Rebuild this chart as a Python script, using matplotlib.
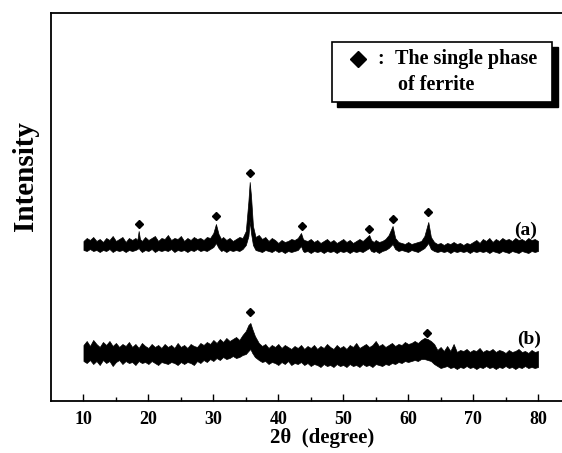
import numpy as np
import matplotlib.pyplot as plt
from matplotlib.patches import Rectangle

plt.rcParams['font.family'] = ['Liberation Serif', 'DejaVu Serif']
plt.rcParams['font.weight'] = 'bold'

# trace (a): upper / lower edge of the noisy band
xa = [10.0, 10.5, 11.0, 11.5, 12.0, 12.5, 13.0, 13.5, 14.0, 14.5, 15.0, 15.5, 16.0, 16.5, 17.0, 17.5,
      18.0, 18.3, 18.5, 18.7, 19.0, 19.5, 20.0, 20.5, 21.0, 21.5, 22.0, 22.5, 23.0, 23.5, 24.0, 24.5,
      25.0, 25.5, 26.0, 26.5, 27.0, 27.5, 28.0, 28.5, 29.0, 29.5, 30.0, 30.4, 30.8, 31.2, 31.5, 32.0,
      32.5, 33.0, 33.5, 34.0, 34.5, 35.0, 35.4, 35.6, 35.8, 36.1, 36.5, 37.0, 37.5, 38.0, 38.5, 39.0,
      39.5, 40.0, 40.5, 41.0, 41.5, 42.0, 42.5, 43.0, 43.5, 43.8, 44.0, 44.5, 45.0, 45.5, 46.0, 46.5,
      47.0, 47.5, 48.0, 48.5, 49.0, 49.5, 50.0, 50.5, 51.0, 51.5, 52.0, 52.5, 53.0, 53.5, 54.0, 54.3,
      54.7, 55.0, 55.5, 56.0, 56.5, 57.0, 57.6, 58.0, 58.5, 59.0, 59.5, 60.0, 60.5, 61.0, 61.5, 62.0,
      62.5, 63.1, 63.5, 64.0, 64.5, 65.0, 65.5, 66.0, 66.5, 67.0, 67.5, 68.0, 68.5, 69.0, 69.5, 70.0,
      70.5, 71.0, 71.5, 72.0, 72.5, 73.0, 73.5, 74.0, 74.5, 75.0, 75.5, 76.0, 76.5, 77.0, 77.5, 78.0,
      78.5, 79.0, 79.5, 80.0]
ua = [160, 163, 161, 164, 160, 162, 159, 163, 161, 165, 160, 162, 164, 159, 163, 161,
      163, 161, 170, 162, 160, 164, 161, 163, 165, 160, 163, 162, 166, 161, 163, 162,
      165, 160, 163, 161, 164, 162, 163, 161, 164, 163, 168, 177, 167, 162, 164, 161,
      163, 160, 162, 164, 163, 170, 200, 219, 205, 175, 164, 166, 162, 164, 160, 163,
      161, 158, 161, 159, 160, 162, 161, 163, 168, 162, 161, 160, 162, 159, 161, 158,
      160, 162, 159, 161, 158, 160, 162, 159, 161, 158, 160, 162, 160, 163, 166, 161,
      159, 161, 159, 160, 162, 166, 175, 163, 159, 158, 157, 159, 157, 158, 159, 160,
      165, 179, 164, 159, 157, 158, 156, 158, 157, 159, 157, 158, 156, 158, 157, 159,
      161, 158, 162, 160, 163, 159, 162, 160, 163, 161, 162, 160, 163, 161, 162, 160,
      163, 161, 162, 160]
la = [151, 150, 152, 150, 151, 149, 151, 150, 152, 149, 151, 150, 151, 149, 151, 150,
      151, 152, 153, 151, 149, 151, 150, 152, 149, 151, 150, 151, 150, 152, 149, 151,
      150, 151, 149, 151, 150, 152, 150, 151, 150, 152, 154, 158, 153, 150, 151, 149,
      151, 150, 151, 150, 152, 156, 165, 180, 168, 156, 151, 150, 149, 151, 150, 149,
      151, 149, 150, 148, 150, 149, 150, 151, 155, 150, 149, 150, 148, 150, 149, 150,
      148, 150, 149, 150, 148, 150, 149, 150, 148, 150, 149, 150, 149, 151, 153, 150,
      149, 150, 148, 150, 151, 153, 157, 152, 150, 151, 150, 149, 151, 150, 149, 151,
      153, 158, 152, 150, 149, 150, 149, 150, 148, 150, 149, 150, 149, 150, 148, 150,
      149, 150, 149, 150, 148, 150, 149, 148, 150, 149, 148, 150, 149, 148, 150, 149,
      148, 150, 149, 150]

# trace (b)
xb = [10.0, 10.5, 11.0, 11.5, 12.0, 12.5, 13.0, 13.5, 14.0, 14.5, 15.0, 15.5, 16.0, 16.5, 17.0, 17.5,
      18.0, 18.5, 19.0, 19.5, 20.0, 20.5, 21.0, 21.5, 22.0, 22.5, 23.0, 23.5, 24.0, 24.5, 25.0, 25.5,
      26.0, 26.5, 27.0, 27.5, 28.0, 28.5, 29.0, 29.5, 30.0, 30.5, 31.0, 31.5, 32.0, 32.5, 33.0, 33.5,
      34.0, 34.5, 35.0, 35.4, 35.7, 36.0, 36.4, 37.0, 37.5, 38.0, 38.5, 39.0, 39.5, 40.0, 40.5, 41.0,
      41.5, 42.0, 42.5, 43.0, 43.5, 44.0, 44.5, 45.0, 45.5, 46.0, 46.5, 47.0, 47.5, 48.0, 48.5, 49.0,
      49.5, 50.0, 50.5, 51.0, 51.5, 52.0, 52.5, 53.0, 53.5, 54.0, 54.5, 55.0, 55.5, 56.0, 56.5, 57.0,
      57.5, 58.0, 58.5, 59.0, 59.5, 60.0, 60.5, 61.0, 61.5, 62.0, 62.5, 63.0, 63.5, 64.0, 64.5, 65.0,
      65.5, 66.0, 66.5, 67.0, 67.5, 68.0, 68.5, 69.0, 69.5, 70.0, 70.5, 71.0, 71.5, 72.0, 72.5, 73.0,
      73.5, 74.0, 74.5, 75.0, 75.5, 76.0, 76.5, 77.0, 77.5, 78.0, 78.5, 79.0, 79.5, 80.0]
ub = [56, 60, 55, 61, 57, 54, 59, 56, 60, 55, 58, 54, 57, 55, 59, 54,
      57, 53, 58, 55, 53, 57, 54, 56, 53, 57, 54, 56, 53, 58, 54, 56,
      53, 57, 55, 54, 58, 56, 59, 57, 61, 58, 62, 59, 63, 60, 62, 64,
      61, 66, 70, 76, 78, 72, 65, 58, 55, 57, 53, 56, 54, 57, 53, 56,
      54, 52, 55, 53, 56, 52, 55, 53, 56, 52, 55, 53, 57, 54, 52, 56,
      53, 55, 52, 56, 54, 58, 53, 55, 57, 54, 56, 60, 55, 57, 54, 56,
      58, 55, 57, 56, 59, 57, 58, 60, 58, 61, 63, 62, 60, 57, 51, 54,
      50, 55, 50, 57, 49, 51, 50, 52, 49, 51, 50, 53, 49, 51, 50, 52,
      49, 51, 50, 48, 51, 49, 50, 52, 49, 50, 48, 51, 49, 50]
lb = [40, 38, 41, 37, 40, 36, 41, 38, 40, 35, 39, 41, 37, 40, 38, 39,
      36, 40, 38, 39, 37, 40, 38, 36, 39, 38, 37, 39, 38, 36, 39, 37,
      39, 38, 36, 40, 38, 41, 39, 42, 40, 43, 41, 44, 42, 43, 45, 43,
      44, 46, 47, 50, 52, 48, 44, 41, 39, 40, 37, 39, 38, 36, 39, 37,
      40, 36, 38, 37, 39, 36, 38, 35, 37, 36, 34, 37, 35, 36, 34, 37,
      35, 36, 34, 37, 35, 36, 34, 37, 35, 36, 34, 37, 36, 35, 37, 36,
      38, 37, 39, 38, 40, 39, 40, 41, 40, 42, 42, 41, 40, 37, 35, 33,
      34, 35, 33, 34, 32, 34, 33, 35, 33, 34, 32, 34, 33, 35, 33, 34,
      32, 34, 33, 35, 33, 34, 32, 34, 33, 35, 33, 34, 33, 34]

# ferrite peak markers
peaks_a = [18.5, 30.4, 35.7, 43.6, 54.0, 57.6, 63.1]
marks_a = [177, 185, 228, 175, 172, 182, 189]
peaks_b = [35.7, 62.9]
marks_b = [89, 68]

xticks = [10, 20, 30, 40, 50, 60, 70, 80]

fig = plt.figure(figsize=(5.62, 4.53), dpi=100)
ax = fig.add_axes([51 / 562, 52 / 453, 519.5 / 562, 388 / 453])

ax.fill_between(xa, la, ua, color='k', lw=0.5)
ax.fill_between(xb, lb, ub, color='k', lw=0.5)
ax.plot(peaks_a, marks_a, 'kD', ms=4.5)
ax.plot(peaks_b, marks_b, 'kD', ms=4.5)

ax.text(78.1, 171, '(a)', ha='center', va='center', fontsize=14, fontweight='bold')
ax.text(78.6, 62, '(b)', ha='center', va='center', fontsize=14, fontweight='bold')

# legend box with shadow
ax.add_patch(Rectangle((49.1, 294), 33.9, 60, facecolor='k', edgecolor='k', zorder=4))
ax.add_patch(Rectangle((48.3, 299), 33.9, 60, facecolor='w', edgecolor='k', lw=1.2, zorder=5))
ax.plot([52.3], [342], 'kD', ms=8, zorder=6)
ax.text(55.7, 342, ':', ha='center', va='center', fontsize=14.5, fontweight='bold', zorder=6)
ax.text(58.0, 342, 'The single phase', ha='left', va='center', fontsize=14.5, fontweight='bold', zorder=6)
ax.text(58.5, 316, 'of ferrite', ha='left', va='center', fontsize=14.5, fontweight='bold', zorder=6)

ax.set_xlim(5, 85)
ax.set_ylim(0, 388)
ax.set_xticks(xticks)
ax.set_xticklabels([str(t) for t in xticks], fontsize=13, fontweight='bold')
ax.set_xticks(np.arange(15, 80, 10), minor=True)
ax.set_yticks([])
ax.tick_params(axis='x', which='major', direction='in', length=5, width=1, pad=7)
ax.tick_params(axis='x', which='minor', direction='in', length=3, width=1)
for s in ax.spines.values():
    s.set_linewidth(1.3)

fig.text(322 / 562, 1 - 438 / 453, '2θ  (degree)', ha='center', va='center', fontsize=15, fontweight='bold')
fig.text(26 / 562, 1 - 176 / 453, 'Intensity', ha='center', va='center', rotation=90, fontsize=21, fontweight='bold')

fig.savefig('out.png', dpi=100)
